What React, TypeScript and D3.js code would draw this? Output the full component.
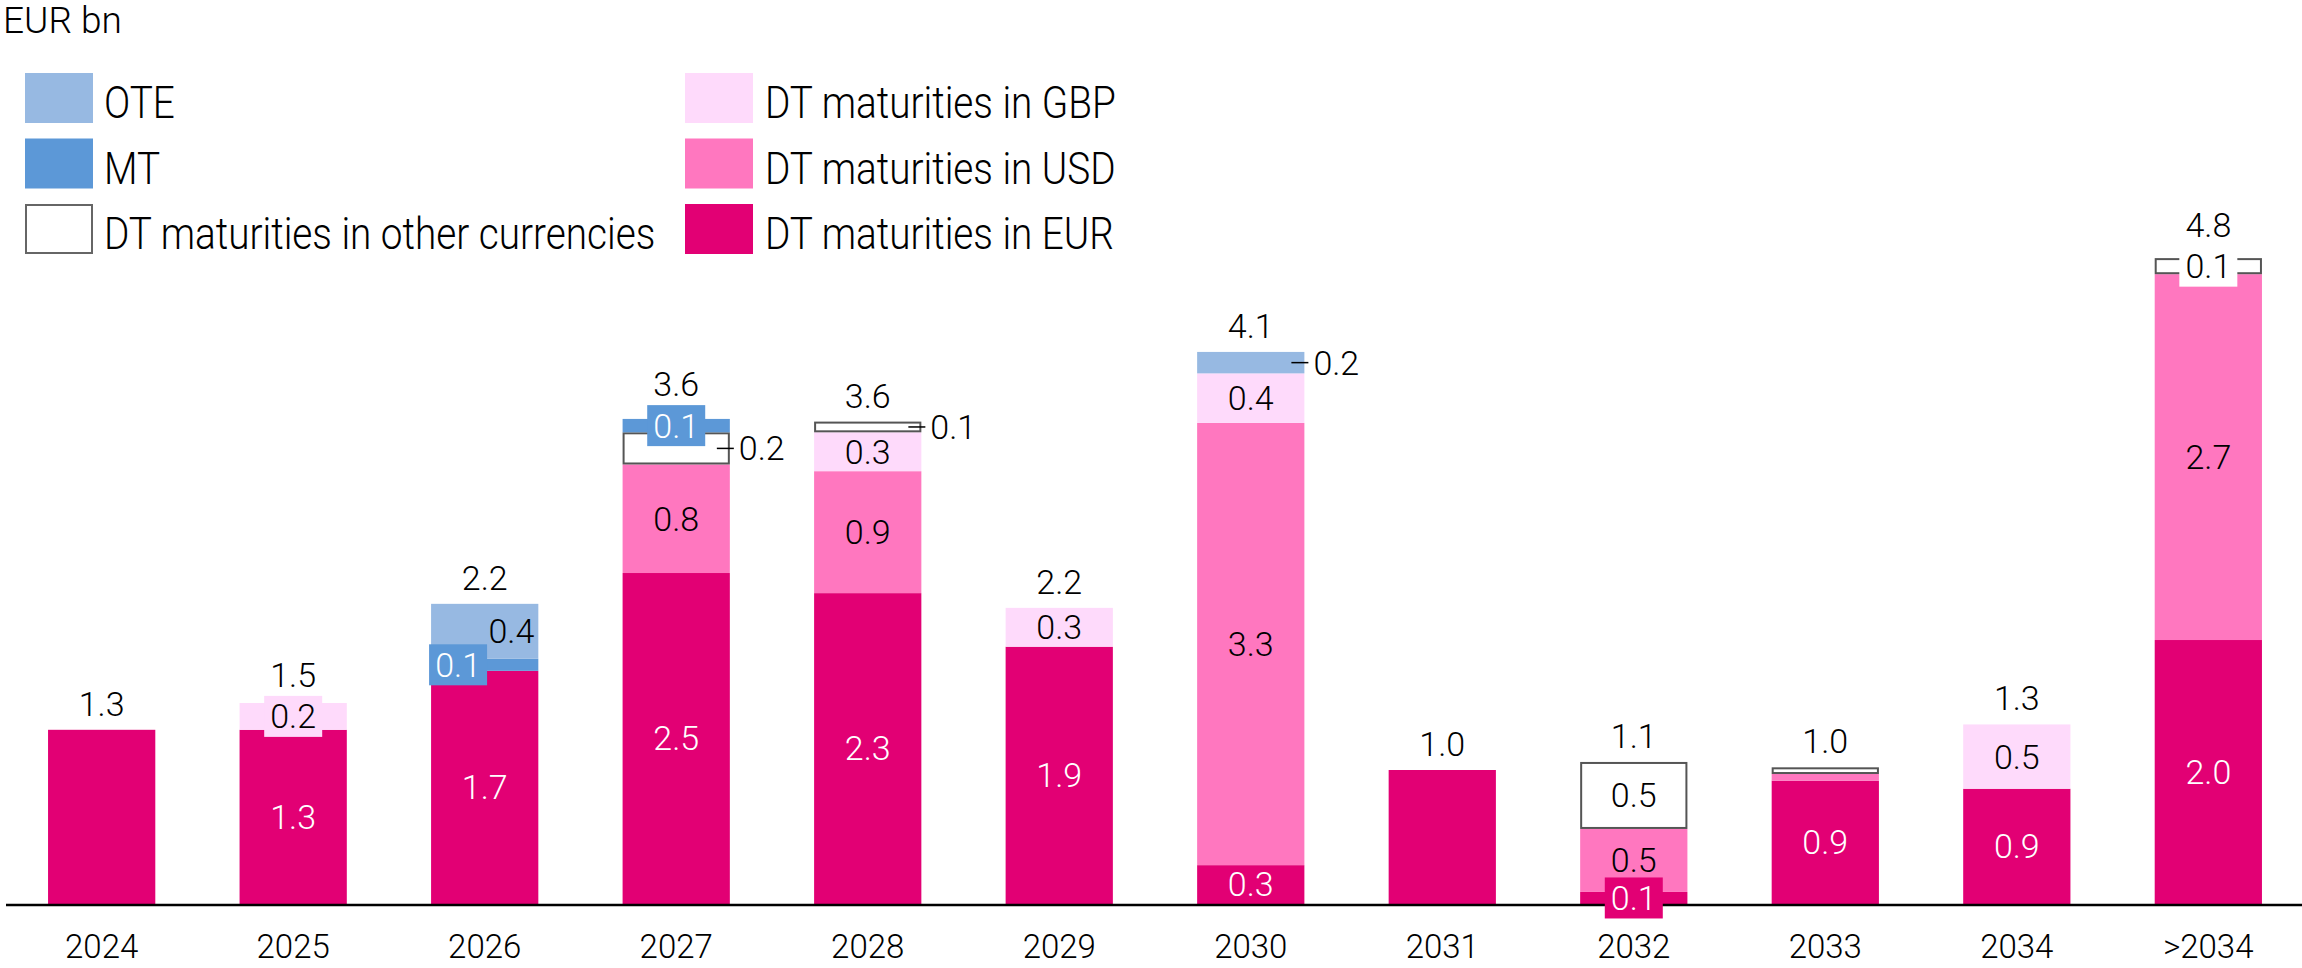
import React from "react";
import * as d3 from "d3";

const categories = ["2024", "2025", "2026", "2027", "2028", "2029", "2030", "2031", "2032", "2033", "2034", ">2034"];
const eurValues = [1.3, 1.3, 1.74, 2.47, 2.32, 1.92, 0.29, 1.0, 0.09, 0.92, 0.86, 1.97];
const usdValues = [0, 0, 0, 0.81, 0.91, 0, 3.3, 0, 0.47, 0.05, 0, 2.73];
const gbpValues = [0, 0.2, 0, 0, 0.29, 0.29, 0.37, 0, 0, 0, 0.48, 0];
const otherValues = [0, 0, 0, 0.24, 0.08, 0, 0, 0, 0.5, 0.05, 0, 0.12];
const mtValues = [0, 0, 0.09, 0.1, 0, 0, 0, 0, 0, 0, 0, 0];
const oteValues = [0, 0, 0.41, 0, 0, 0, 0.16, 0, 0, 0, 0, 0];

const seriesKeys = ["EUR", "USD", "GBP", "other", "MT", "OTE"];
const seriesNames: Record<string, string> = {
  OTE: "OTE",
  MT: "MT",
  other: "DT maturities in other currencies",
  GBP: "DT maturities in GBP",
  USD: "DT maturities in USD",
  EUR: "DT maturities in EUR",
};
const colors: Record<string, string> = {
  EUR: "#e20074",
  USD: "#ff77bf",
  GBP: "#fedafb",
  other: "#ffffff",
  MT: "#5c98d7",
  OTE: "#97b9e2",
};
const textColors: Record<string, string> = {
  EUR: "#ffffff",
  USD: "#000000",
  GBP: "#000000",
  other: "#000000",
  MT: "#ffffff",
  OTE: "#000000",
};
const legendCol1 = ["OTE", "MT", "other"];
const legendCol2 = ["GBP", "USD", "EUR"];

// label placement modes (style config)
const labelMode: Record<string, string> = {
  "2025|GBP": "box",
  "2026|MT": "boxLeft",
  "2026|OTE": "insideRight",
  "2027|other": "leader",
  "2027|MT": "box",
  "2028|other": "leader",
  "2030|OTE": "leader",
  "2032|EUR": "box",
  "2033|USD": "none",
  "2033|other": "none",
  ">2034|other": "box",
};

const W = 2302;
const H = 968;
const FONT = "Roboto, 'Open Sans', sans-serif";
const FW = 300;

export default function App() {
  const rows = categories.map((c, i) => ({
    cat: c,
    EUR: eurValues[i],
    USD: usdValues[i],
    GBP: gbpValues[i],
    other: otherValues[i],
    MT: mtValues[i],
    OTE: oteValues[i],
  }));
  const stacked = d3.stack<any>().keys(seriesKeys)(rows);

  const x = d3
    .scaleBand<string>()
    .domain(categories)
    .range([4, W + 4])
    .paddingInner(0.44)
    .paddingOuter(0.23);
  const y = d3.scaleLinear().domain([0, 5]).range([904, 234]);
  const bw = x.bandwidth();

  const BOX_W = 58;
  const BOX_H = 41;

  const bars: any[] = [];
  const labels: any[] = [];
  const boxTops: Record<string, number> = {};

  categories.forEach((cat, i) => {
    const nonZero = seriesKeys.filter((k) => (rows[i] as any)[k] > 0);
    stacked.forEach((s) => {
      const key = s.key;
      const d = s[i];
      const v = d[1] - d[0];
      if (v <= 0) return;
      const x0 = x(cat)!;
      const yTop = y(d[1]);
      const yBot = y(d[0]);
      const isOther = key === "other";
      bars.push(
        <rect
          key={`b-${cat}-${key}`}
          x={x0 + (isOther ? 1 : 0)}
          y={yTop + (isOther ? 1 : 0)}
          width={bw - (isOther ? 2 : 0)}
          height={Math.max(0, yBot - yTop - (isOther ? 2 : 0))}
          fill={colors[key]}
          stroke={isOther ? "#555" : "none"}
          strokeWidth={isOther ? 2 : 0}
        />
      );
      if (nonZero.length < 2) return;
      const mode = labelMode[`${cat}|${key}`] || "inside";
      if (mode === "none") return;
      const cy = (yTop + yBot) / 2;
      const txt = d3.format(".1f")(v);
      const cx = x0 + bw / 2;
      if (mode === "box" || mode === "boxLeft") {
        const bx = mode === "box" ? cx - BOX_W / 2 : x0 - 2;
        const by = cy - BOX_H / 2;
        boxTops[cat] = Math.min(boxTops[cat] ?? Infinity, by);
        labels.push(
          <g key={`l-${cat}-${key}`}>
            <rect x={bx} y={by} width={BOX_W} height={BOX_H} fill={colors[key]} />
            <text
              x={bx + BOX_W / 2}
              y={cy}
              dy="0.35em"
              textAnchor="middle"
              fill={textColors[key]}
              fontSize={34}
            >
              {txt}
            </text>
          </g>
        );
      } else if (mode === "leader") {
        const xr = x0 + bw;
        labels.push(
          <g key={`l-${cat}-${key}`}>
            <line x1={xr - 13} x2={xr + 4} y1={cy} y2={cy} stroke="#000" strokeWidth={1.5} />
            <text x={xr + 9} y={cy} dy="0.35em" textAnchor="start" fill="#000" fontSize={34}>
              {txt}
            </text>
          </g>
        );
      } else if (mode === "insideRight") {
        labels.push(
          <text
            key={`l-${cat}-${key}`}
            x={x0 + bw - 4}
            y={cy}
            dy="0.35em"
            textAnchor="end"
            fill={textColors[key]}
            fontSize={34}
          >
            {txt}
          </text>
        );
      } else {
        labels.push(
          <text
            key={`l-${cat}-${key}`}
            x={cx}
            y={cy}
            dy="0.35em"
            textAnchor="middle"
            fill={textColors[key]}
            fontSize={34}
          >
            {txt}
          </text>
        );
      }
    });
  });

  const totals = categories.map((cat, i) => {
    const total = d3.sum(seriesKeys, (k) => (rows[i] as any)[k]);
    const top = y(total);
    const base = Math.min(top - 14, (boxTops[cat] ?? Infinity) - 9);
    return (
      <text
        key={`t-${cat}`}
        x={x(cat)! + bw / 2}
        y={base}
        textAnchor="middle"
        fill="#000"
        fontSize={34}
      >
        {d3.format(".1f")(total)}
      </text>
    );
  });

  const legendRowY = (j: number) => 73 + j * 65.5;
  const legendScale = 0.88;
  const legendItem = (key: string, j: number, sx: number, tx: number) => (
    <g key={`lg-${key}`}>
      <rect
        x={sx + (key === "other" ? 1 : 0)}
        y={legendRowY(j) + (key === "other" ? 1 : 0)}
        width={68 - (key === "other" ? 2 : 0)}
        height={50 - (key === "other" ? 2 : 0)}
        fill={colors[key]}
        stroke={key === "other" ? "#666" : "none"}
        strokeWidth={key === "other" ? 2 : 0}
      />
      <text
        transform={`translate(${tx},${legendRowY(j) + 45}) scale(${legendScale},1)`}
        fontSize={44}
        fill="#000"
      >
        {seriesNames[key]}
      </text>
    </g>
  );

  return (
    <svg
      width={W}
      height={H}
      style={{ position: "absolute", left: 0, top: 0, display: "block", background: "#fff" }}
      fontFamily={FONT}
      fontWeight={FW}
    >
      <text x={3} y={33} fontSize={37} fill="#000">
        EUR bn
      </text>
      {legendCol1.map((k, j) => legendItem(k, j, 25, 104))}
      {legendCol2.map((k, j) => legendItem(k, j, 685, 765))}
      {bars}
      <line x1={6} x2={W} y1={905} y2={905} stroke="#000" strokeWidth={2.5} />
      {labels}
      {totals}
      {categories.map((cat) => (
        <text key={`x-${cat}`} x={x(cat)! + bw / 2} y={958} textAnchor="middle" fontSize={33} fill="#000">
          {cat}
        </text>
      ))}
    </svg>
  );
}
